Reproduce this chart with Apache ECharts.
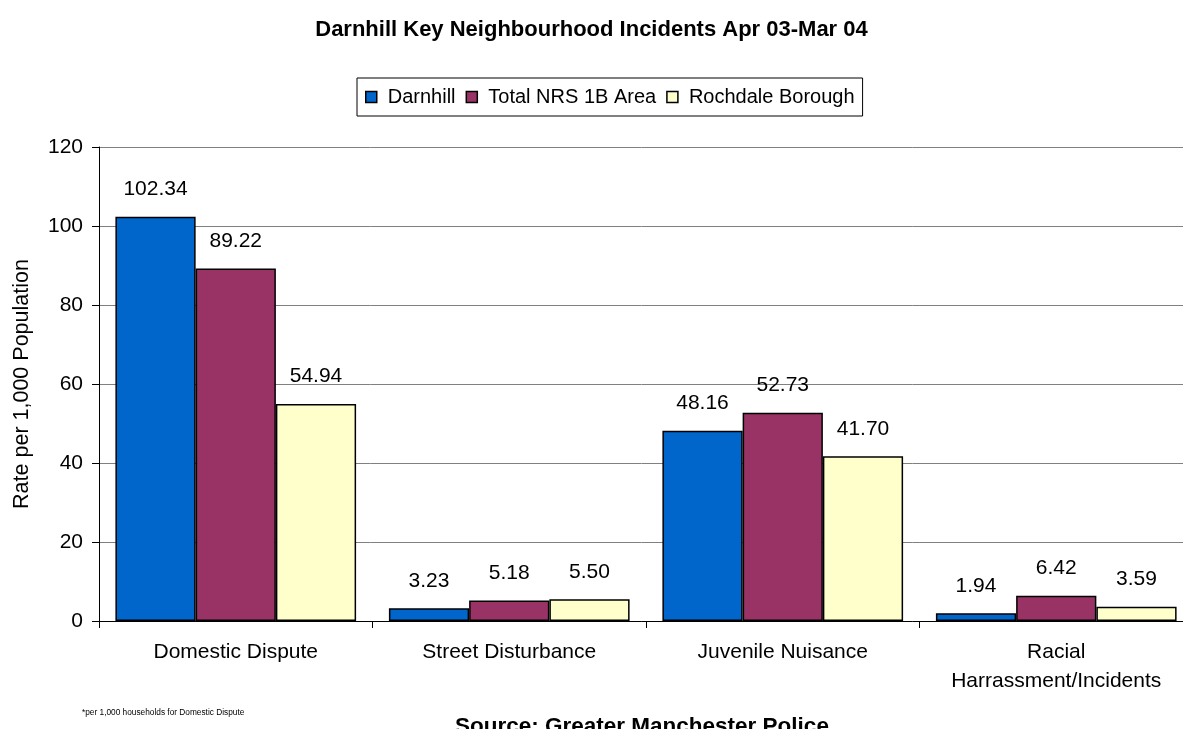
<!DOCTYPE html>
<html>
<head>
<meta charset="utf-8">
<script src="https://cdn.jsdelivr.net/npm/echarts@6/dist/echarts.min.js"></script>
<style>
html, body { margin: 0; padding: 0; background: #fff; }
#main { width: 1183px; height: 729px; }
</style>
</head>
<body>
<div id="main"></div>
<script>
// categories + series values
var categories = ['Domestic Dispute', 'Street Disturbance', 'Juvenile Nuisance', 'Racial\nHarrassment/Incidents'];
var darnhill = [102.34, 3.23, 48.16, 1.94];
var totalNrs = [89.22, 5.18, 52.73, 6.42];
var rochdale = [54.94, 5.50, 41.70, 3.59];
var seriesNames = ['Darnhill', 'Total NRS 1B Area', 'Rochdale Borough'];
var colors = ['#0066cc', '#993366', '#ffffcc'];

function barSeries(name, data, color) {
	return {
		name: name,
		type: 'bar',
		data: data,
		barGap: '0%',
		barCategoryGap: '12%',
		itemStyle: {
			color: color,
			borderColor: '#000',
			borderWidth: 1.5
		},
		label: {
			show: true,
			position: 'top',
			distance: 17,
			color: '#000',
			fontSize: 21,
			formatter: function(p) { return p.value.toFixed(2); }
		}
	};
}

var myChart = echarts.init(document.getElementById('main'));
var option = {
	backgroundColor: '#fff',
	animation: false,
	textStyle: { fontFamily: 'Liberation Sans, Arial, sans-serif' },
	title: [{
		text: 'Darnhill Key Neighbourhood Incidents Apr 03-Mar 04',
		left: 'center',
		top: 14,
		textStyle: { color: '#000', fontSize: 22, fontWeight: 'bold' }
	}, {
		text: '*per 1,000 households for Domestic Dispute',
		left: 82,
		top: 709,
		padding: 0,
		textStyle: { color: '#000', fontSize: 8.3, fontWeight: 'normal' }
	}, {
		text: 'Source: Greater Manchester Police',
		left: 455,
		top: 715,
		padding: 0,
		textStyle: { color: '#000', fontSize: 22.5, fontWeight: 'bold' }
	}],
	legend: {
		data: seriesNames,
		top: 78,
		left: 357,
		padding: [9, 8, 9, 8],
		borderColor: '#000',
		borderWidth: 1,
		itemWidth: 11,
		itemHeight: 11,
		itemGap: 10,
		icon: 'rect',
		itemStyle: { borderColor: '#000', borderWidth: 1.5 },
		textStyle: { color: '#000', fontSize: 20, padding: [0, 0, 0, 6] }
	},
	grid: {
		left: 99,
		width: 1094,
		top: 147,
		bottom: 108,
		outerBoundsMode: 'none'
	},
	xAxis: {
		type: 'category',
		data: categories,
		axisLine: { lineStyle: { color: '#000', width: 1 } },
		axisTick: { show: true, alignWithLabel: false, length: 7, lineStyle: { color: '#000' } },
		axisLabel: { color: '#000', fontSize: 21, margin: 17, lineHeight: 29, interval: 0 }
	},
	yAxis: {
		type: 'value',
		min: 0,
		max: 120,
		interval: 20,
		name: 'Rate per 1,000 Population',
		nameLocation: 'middle',
		nameGap: 66,
		nameTextStyle: { color: '#000', fontSize: 21.5 },
		axisLine: { show: true, lineStyle: { color: '#000' } },
		axisTick: { show: true, length: 7, lineStyle: { color: '#000' } },
		axisLabel: { color: '#000', fontSize: 21, margin: 16 },
		splitLine: { lineStyle: { color: '#808080', width: 1 } }
	},
	series: [
		barSeries(seriesNames[0], darnhill, colors[0]),
		barSeries(seriesNames[1], totalNrs, colors[1]),
		barSeries(seriesNames[2], rochdale, colors[2])
	]
};
myChart.setOption(option);
</script>
</body>
</html>
